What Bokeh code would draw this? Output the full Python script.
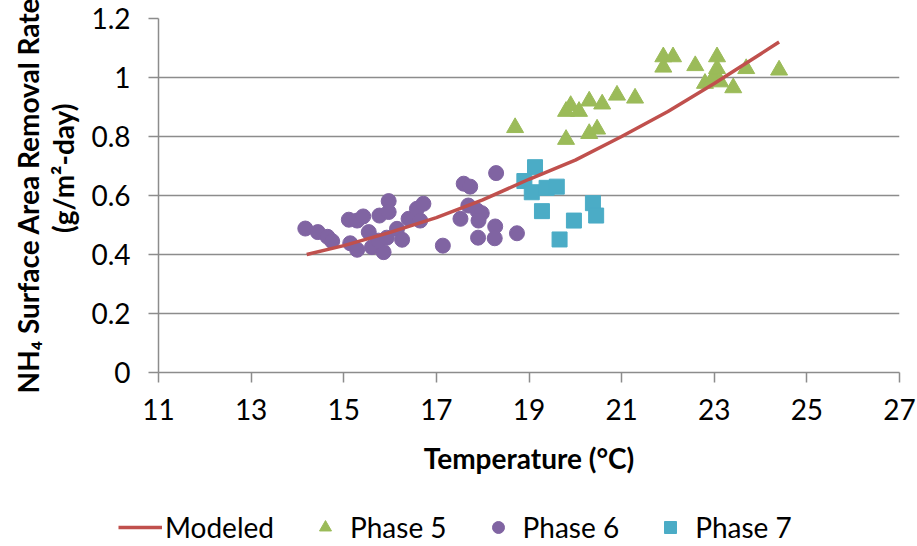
from bokeh.plotting import figure
from bokeh.models import FixedTicker, Legend, LegendItem, Range1d
from bokeh.embed import file_html
from bokeh.resources import INLINE

# ---- data ----
model_temp = [14.2, 15.0, 16.0, 17.0, 18.0, 19.0, 20.0, 21.0, 22.0, 23.0, 24.0, 24.4]
model_rate = [0.40, 0.43, 0.475, 0.525, 0.585, 0.655, 0.72, 0.80, 0.885, 0.98, 1.08, 1.12]

phase5_temp = [18.70, 19.80, 19.80, 19.90, 20.08, 20.30, 20.30, 20.47, 20.58, 20.90, 21.29,
               21.90, 21.90, 22.11, 22.59, 22.80, 22.95, 23.00, 23.06, 23.06, 23.13, 23.41,
               23.69, 24.40]
phase5_rate = [0.83, 0.79, 0.885, 0.905, 0.885, 0.92, 0.81, 0.825, 0.91, 0.94, 0.93,
               1.035, 1.07, 1.07, 1.04, 0.98, 0.99, 1.005, 1.03, 1.07, 0.985, 0.965,
               1.03, 1.025]

phase6_temp = [14.17, 14.44, 14.65, 14.75, 15.11, 15.29, 15.42, 15.14, 15.29, 15.54, 15.61,
               15.77, 15.97, 15.97, 15.86, 15.75, 15.93, 16.15, 16.26, 16.40, 16.58, 16.72,
               16.65, 17.14, 17.59, 17.73, 17.52, 17.69, 17.88, 17.98, 17.91, 18.27, 18.29,
               17.90, 18.26, 18.74]
phase6_rate = [0.488, 0.476, 0.46, 0.445, 0.518, 0.515, 0.529, 0.438, 0.416, 0.476, 0.425,
               0.532, 0.581, 0.544, 0.408, 0.447, 0.457, 0.487, 0.45, 0.521, 0.555, 0.572,
               0.515, 0.43, 0.64, 0.63, 0.521, 0.566, 0.549, 0.54, 0.515, 0.495, 0.676,
               0.457, 0.455, 0.472]

phase7_temp = [19.13, 18.90, 19.06, 19.38, 19.60, 19.28, 20.38, 20.45, 19.97, 19.66]
phase7_rate = [0.696, 0.649, 0.611, 0.626, 0.63, 0.547, 0.574, 0.532, 0.515, 0.451]

x_ticks = [11, 13, 15, 17, 19, 21, 23, 25, 27]
y_ticks = [0, 0.2, 0.4, 0.6, 0.8, 1.0, 1.2]
y_tick_labels = ["0", "0.2", "0.4", "0.6", "0.8", "1", "1.2"]
series_names = ["Modeled", "Phase 5", "Phase 6", "Phase 7"]

FONT = "Lato"
GRID = "#8c8c8c"
C_MODEL, C5, C6, C7 = "#C0504D", "#9BBB59", "#8064A2", "#4BACC6"
NB = "\u00a0"

p = figure(width=917, height=490, output_backend="svg", toolbar_location=None,
           x_range=Range1d(11, 27), y_range=Range1d(0, 1.2),
           min_border_left=158, min_border_right=18, min_border_top=18,
           min_border_bottom=118)
p.outline_line_color = None
p.background_fill_color = "white"
p.border_fill_color = "white"

p.xgrid.grid_line_color = None
p.ygrid.grid_line_color = GRID
p.ygrid.grid_line_width = 1.5

p.xaxis.ticker = FixedTicker(ticks=x_ticks)
p.yaxis.ticker = FixedTicker(ticks=y_ticks)
p.yaxis.major_label_overrides = {t: l for t, l in zip(y_ticks, y_tick_labels)}
for ax in (p.xaxis, p.yaxis):
    ax.axis_line_color = GRID
    ax.axis_line_width = 1.5
    ax.major_tick_line_color = GRID
    ax.major_tick_line_width = 1.5
    ax.major_tick_out = 10
    ax.major_tick_in = 0
    ax.minor_tick_line_color = None
    ax.major_label_text_font = FONT
    ax.major_label_text_font_size = "28px"
    ax.major_label_text_color = "black"
    ax.axis_label_text_font = FONT
    ax.axis_label_text_font_style = "bold"
    ax.axis_label_text_font_size = "28px"
    ax.axis_label_text_color = "black"
p.xaxis.major_label_standoff = 16
p.yaxis.major_label_standoff = 18

p.xaxis.axis_label = "Temperature (°C)"
p.xaxis.axis_label_standoff = 18
p.yaxis.axis_label = ("NH\u2084 Surface Area Removal Rate\n"
                      + NB * 8 + "(g/m\u00b2-day)")
p.yaxis.axis_label_standoff = 8
p.yaxis.axis_label_text_line_height = 1.05

p.scatter(phase5_temp, phase5_rate, marker="triangle", size=17,
          fill_color=C5, line_color=C5)
p.scatter(phase6_temp, phase6_rate, marker="circle", size=15,
          fill_color=C6, line_color=C6)
p.scatter(phase7_temp, phase7_rate, marker="square", size=15,
          fill_color=C7, line_color=C7)
p.line(model_temp, model_rate, line_color=C_MODEL, line_width=3.5)

# ---- legend strip below the chart (series drawn off-range, only keys show) ----
lg = figure(width=917, height=56, output_backend="svg", toolbar_location=None,
            x_range=Range1d(0, 1), y_range=Range1d(0, 1),
            x_axis_type=None, y_axis_type=None,
            min_border_left=0, min_border_right=0, min_border_top=0,
            min_border_bottom=0)
lg.outline_line_color = None
lg.xgrid.grid_line_color = None
lg.ygrid.grid_line_color = None
lm = lg.line(model_temp, model_rate, line_color=C_MODEL, line_width=3.5)
l5 = lg.scatter(phase5_temp, phase5_rate, marker="triangle", size=17,
                fill_color=C5, line_color=C5)
l6 = lg.scatter(phase6_temp, phase6_rate, marker="circle", size=15,
                fill_color=C6, line_color=C6)
l7 = lg.scatter(phase7_temp, phase7_rate, marker="square", size=15,
                fill_color=C7, line_color=C7)

legend = Legend(items=[LegendItem(label=n, renderers=[r])
                       for n, r in zip(series_names, [lm, l5, l6, l7])],
                orientation="horizontal", location=(118, 2),
                glyph_width=44, glyph_height=30, label_standoff=3, spacing=29,
                padding=0, margin=0, border_line_color=None,
                background_fill_alpha=0,
                label_text_font=FONT, label_text_font_size="28px",
                label_text_color="black")
lg.add_layout(legend, "center")

open("out.html", "w").write(file_html([p, lg], INLINE))
